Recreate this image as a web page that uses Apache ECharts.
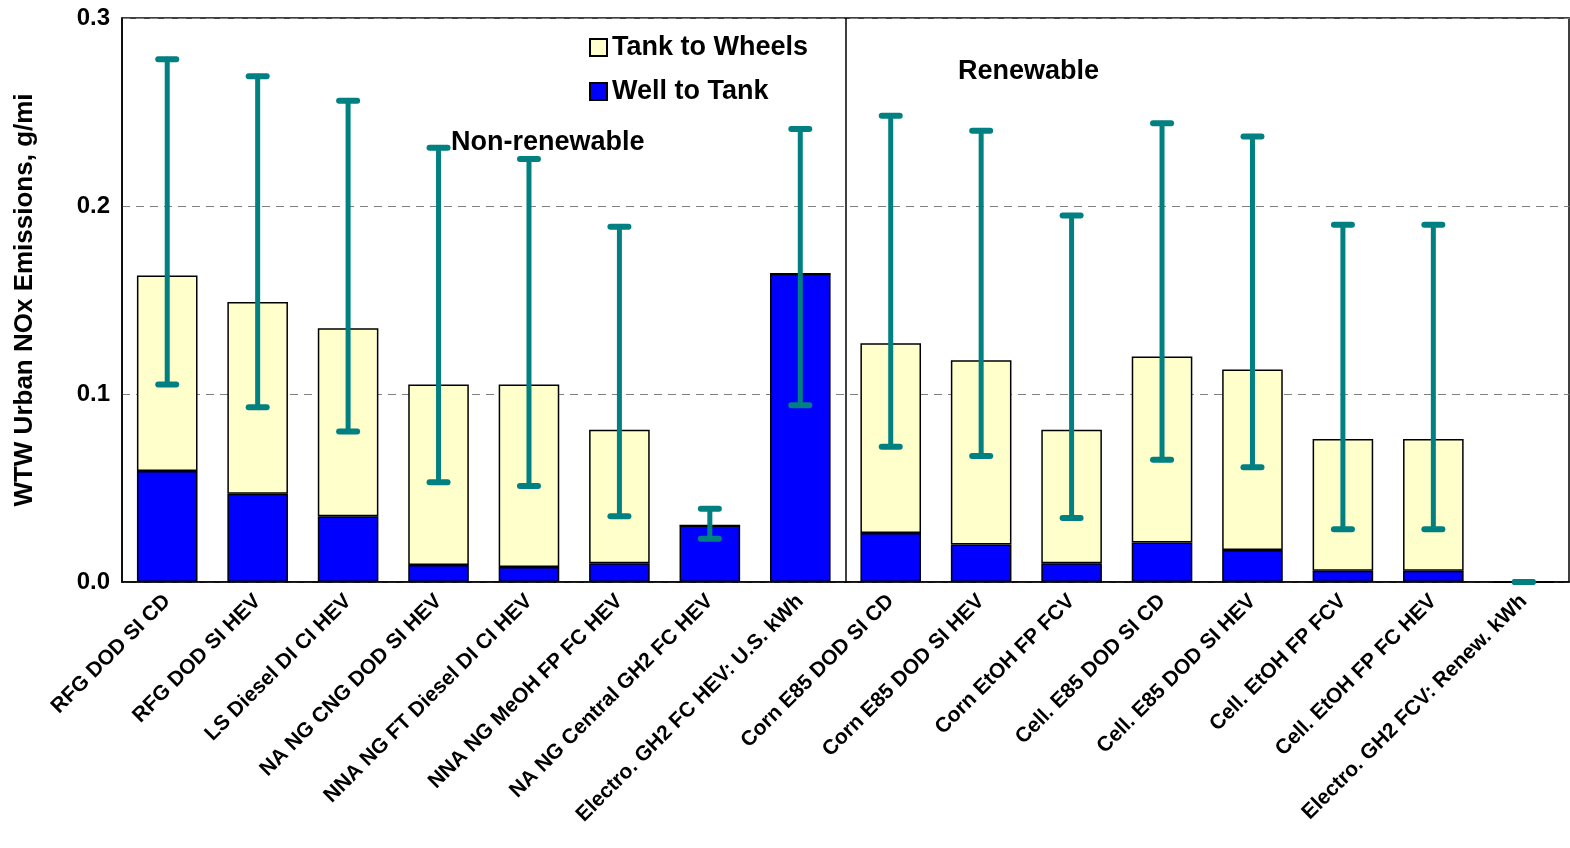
<!DOCTYPE html>
<html>
<head>
<meta charset="utf-8">
<script src="https://cdn.jsdelivr.net/npm/echarts@6/dist/echarts.min.js"></script>
<style>
html,body{margin:0;padding:0;background:#fff;}
#main{width:1570px;height:848px;}
</style>
</head>
<body>
<div id="main"></div>
<script>
// 类别
var categories = ["RFG DOD SI CD","RFG DOD SI HEV","LS Diesel DI CI HEV","NA NG CNG DOD SI HEV",
	"NNA NG FT Diesel DI CI HEV","NNA NG MeOH FP FC HEV","NA NG Central GH2 FC HEV","Electro. GH2 FC HEV: U.S. kWh",
	"Corn E85 DOD SI CD","Corn E85 DOD SI HEV","Corn EtOH FP FCV","Cell. E85 DOD SI CD",
	"Cell. E85 DOD SI HEV","Cell. EtOH FP FCV","Cell. EtOH FP FC HEV","Electro. GH2 FCV: Renew. kWh"];
// Well to Tank
var wellToTank = [0.059,0.047,0.035,0.009,0.008,0.010,0.030,0.164,0.026,0.020,0.010,0.021,0.017,0.006,0.006,0];
// Tank to Wheels
var tankToWheels = [0.104,0.102,0.100,0.096,0.097,0.071,0,0,0.101,0.098,0.071,0.099,0.096,0.070,0.070,0];
// 误差线 低/高
var errLow = [0.105,0.093,0.080,0.053,0.051,0.035,0.023,0.094,0.072,0.067,0.034,0.065,0.061,0.028,0.028,0];
var errHigh = [0.278,0.269,0.256,0.231,0.225,0.189,0.039,0.241,0.248,0.240,0.195,0.244,0.237,0.190,0.190,0];
var yTicks = ["0.0","0.1","0.2","0.3"];
// 分隔线位置(第8类之后)
var splitAt = 8;

var errData = [];
for (var i = 0; i < categories.length; i++) {
	errData.push([i, errLow[i], errHigh[i]]);
}

var myChart = echarts.init(document.getElementById('main'));
var font = 'Liberation Sans, Arial, sans-serif';

var option = {
	animation: false,
	textStyle: {fontFamily: font},
	grid: {
		left: 122, right: 1, top: 18, bottom: 266,
		outerBoundsMode: 'none', containLabel: false,
		show: true, borderColor: '#000', borderWidth: 1.5
	},
	legend: {
		data: ['Tank to Wheels', 'Well to Tank'],
		orient: 'vertical',
		left: 584, top: 29,
		icon: 'rect',
		itemWidth: 17, itemHeight: 17, itemGap: 17,
		textStyle: {fontSize: 27, fontWeight: 'bold', color: '#000', fontFamily: font}
	},
	xAxis: [{
		type: 'category',
		data: categories,
		axisLine: {lineStyle: {color: '#000', width: 1.5}},
		axisTick: {show: false},
		axisLabel: {
			rotate: 45, interval: 0, margin: 16,
			fontSize: 21, fontWeight: 'bold', color: '#000', fontFamily: font
		}
	}, {
		// 隐藏的数值轴, 只用于画分隔线
		type: 'value', show: false,
		min: 0, max: categories.length
	}],
	yAxis: {
		type: 'value',
		min: 0, max: 0.3, interval: 0.1,
		name: 'WTW Urban NOx Emissions, g/mi',
		nameLocation: 'middle', nameGap: 84, nameRotate: 90,
		nameTextStyle: {fontSize: 26, fontWeight: 'bold', color: '#000', fontFamily: font},
		axisLine: {show: true, lineStyle: {color: '#000', width: 1.5}},
		axisTick: {show: false},
		axisLabel: {
			fontSize: 24, fontWeight: 'bold', color: '#000', margin: 12,
			formatter: function (v) { return yTicks[Math.round(v * 10)]; }
		},
		splitLine: {lineStyle: {color: '#808080', type: [8, 6], width: 1.2}}
	},
	graphic: [
		{type: 'text', left: 451, top: 129, style: {text: 'Non-renewable', font: 'bold 27px ' + font, fill: '#000'}},
		{type: 'text', left: 958, top: 58, style: {text: 'Renewable', font: 'bold 27px ' + font, fill: '#000'}}
	],
	series: [
		{
			name: 'Well to Tank', type: 'bar', stack: 'wtw',
			data: wellToTank, barCategoryGap: '33%',
			itemStyle: {color: '#0000ff', borderColor: '#000', borderWidth: 1.5}
		},
		{
			name: 'Tank to Wheels', type: 'bar', stack: 'wtw',
			data: tankToWheels,
			itemStyle: {color: '#ffffcc', borderColor: '#000', borderWidth: 1.5}
		},
		{
			name: 'sep', type: 'line', xAxisIndex: 1, data: [],
			markLine: {
				silent: true, symbol: 'none', label: {show: false},
				lineStyle: {color: '#000', width: 1.5, type: 'solid'},
				data: [{xAxis: splitAt}]
			}
		},
		{
			name: 'err', type: 'custom',
			data: errData,
			encode: {x: 0, y: [1, 2]},
			z: 10,
			renderItem: function (params, api) {
				var lo = api.coord([api.value(0), api.value(1)]);
				var hi = api.coord([api.value(0), api.value(2)]);
				var hw = 9;
				var st = {stroke: '#008080', lineWidth: 5, lineCap: 'round'};
				var capSt = {stroke: '#008080', lineWidth: 6, lineCap: 'round'};
				return {
					type: 'group',
					children: [
						{type: 'line', shape: {x1: lo[0], y1: lo[1], x2: hi[0], y2: hi[1]}, style: st},
						{type: 'line', shape: {x1: lo[0] - hw, y1: lo[1], x2: lo[0] + hw, y2: lo[1]}, style: capSt},
						{type: 'line', shape: {x1: hi[0] - hw, y1: hi[1], x2: hi[0] + hw, y2: hi[1]}, style: capSt}
					]
				};
			}
		}
	]
};

myChart.setOption(option);
</script>
</body>
</html>
